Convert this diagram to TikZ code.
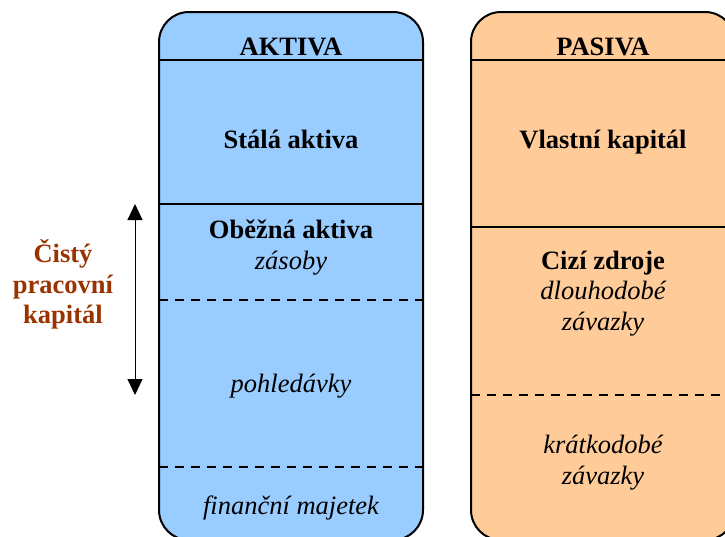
\documentclass[tikz,border=0pt]{standalone}
\usepackage{fontspec}
\setmainfont{Liberation Serif}
\usetikzlibrary{arrows.meta}
\definecolor{aktblue}{HTML}{99CCFF}
\definecolor{pasorange}{HTML}{FFCC99}
\definecolor{cpkbrown}{HTML}{993300}
\tikzset{
  panel/.style={draw=black, line width=2pt, rounded corners=30pt},
  divider/.style={draw=black, line width=2pt},
  dashdiv/.style={draw=black, line width=1.8pt, dash pattern=on 9pt off 7pt},
  headtxt/.style={anchor=base, inner sep=0pt, font=\fontsize{26.5}{31}\selectfont\bfseries},
  boldtxt/.style={anchor=base, inner sep=0pt, font=\fontsize{26.5}{31}\selectfont\bfseries},
  itxt/.style={anchor=base, inner sep=0pt, font=\fontsize{26.5}{31}\selectfont\itshape},
  cpktxt/.style={anchor=base, inner sep=0pt, text=cpkbrown, font=\fontsize{26.5}{31}\selectfont\bfseries},
  dblarrow/.style={line width=1pt, {Triangle[length=16pt,width=15pt]}-{Triangle[length=16pt,width=15pt]}}
}
\begin{document}
\begin{tikzpicture}[x=1pt,y=-1pt]
\useasboundingbox (0,0) rectangle (725,536);
\clip (0,0) rectangle (725,536);
% panels
\draw[panel, fill=aktblue] (159,12) rectangle (423,540);
\draw[panel, fill=pasorange] (471,12) rectangle (735,540);
% aktiva dividers
\draw[divider] (159,60) -- (423,60);
\draw[divider] (159,204) -- (423,204);
\draw[dashdiv] (159,300) -- (423,300);
\draw[dashdiv] (159,467) -- (423,467);
% pasiva dividers
\draw[divider] (471,60) -- (735,60);
\draw[divider] (471,227) -- (735,227);
\draw[dashdiv] (471,395) -- (735,395);
% aktiva texts
\node[headtxt] (akt) at (291,55) {AKTIVA};
\node[boldtxt] (sa) at (291,148) {Stálá aktiva};
\node[boldtxt] (oa) at (291,238) {Oběžná aktiva};
\node[itxt] (zas) at (291,269) {zásoby};
\node[itxt] (poh) at (291,392) {pohledávky};
\node[itxt] (fin) at (291,514) {finanční majetek};
% pasiva texts
\node[headtxt] (pas) at (603,55) {PASIVA};
\node[boldtxt] (vk) at (603,148) {Vlastní kapitál};
\node[boldtxt] (cz) at (603,269) {Cizí zdroje};
\node[itxt] (dl) at (603,299) {dlouhodobé};
\node[itxt] (dlz) at (603,330) {závazky};
\node[itxt] (kr) at (603,453) {krátkodobé};
\node[itxt] (krz) at (603,484) {závazky};
% net working capital
\node[cpktxt] (c1) at (63,262) {Čistý};
\node[cpktxt] (c2) at (63,293) {pracovní};
\node[cpktxt] (c3) at (63,323) {kapitál};
\coordinate (atop) at (135,204);
\coordinate (abot) at (135,395);
\draw[dblarrow] (atop) -- (abot);
\end{tikzpicture}
\end{document}
